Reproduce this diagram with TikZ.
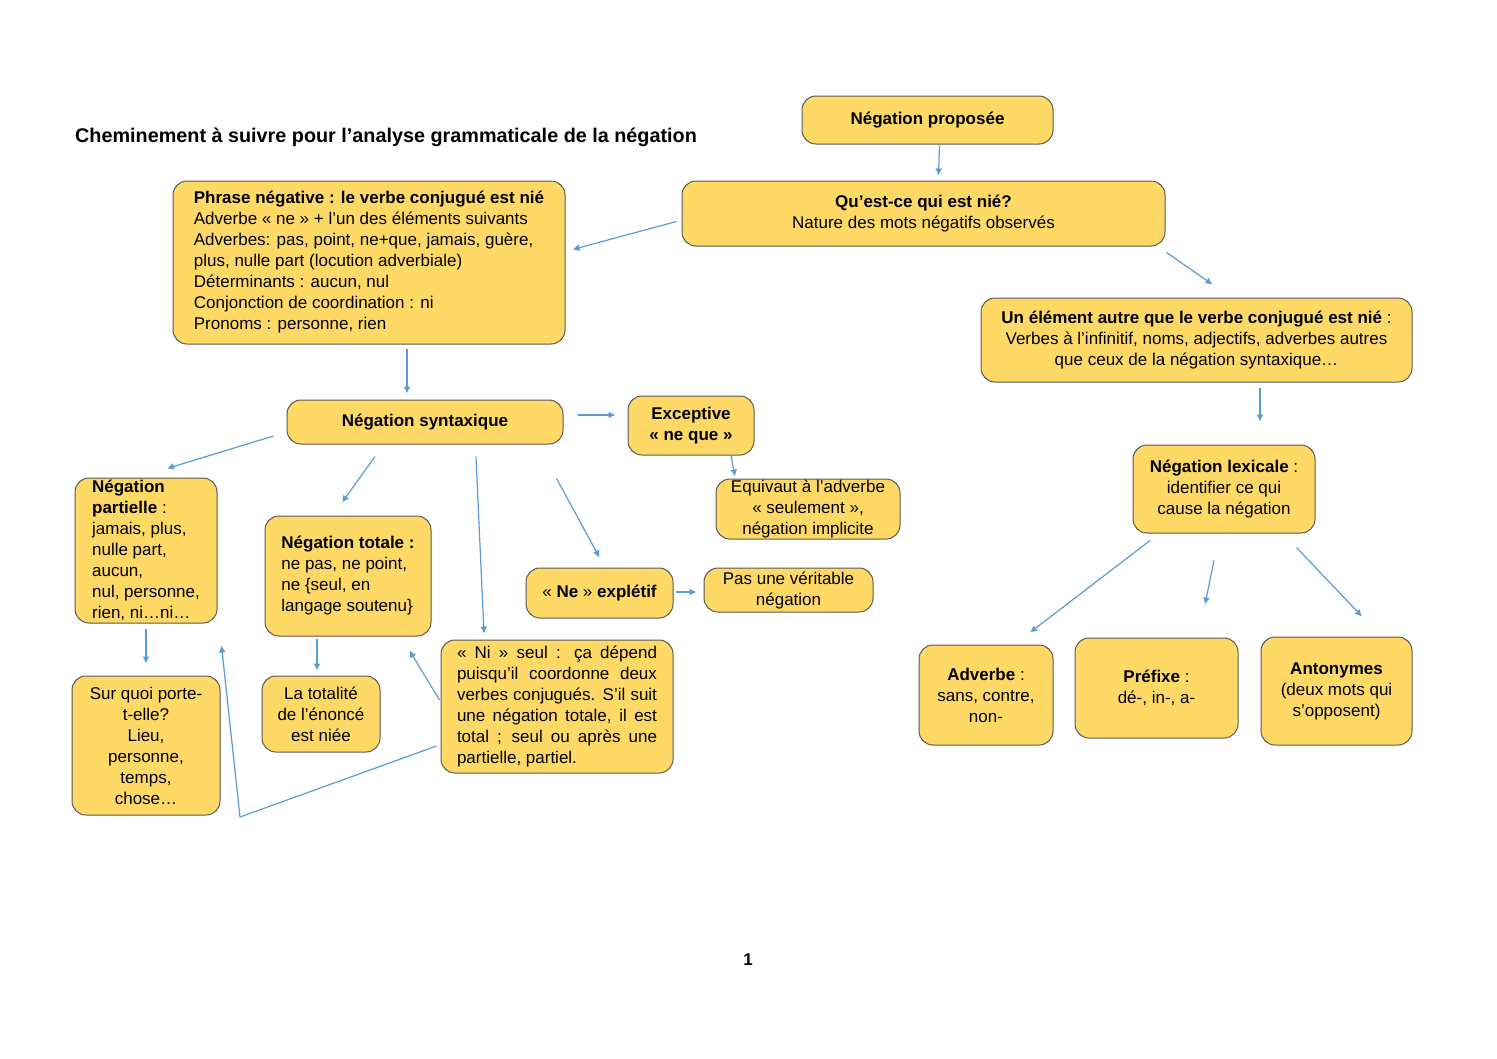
\documentclass[tikz,border=0pt]{standalone}
\usepackage{fontspec}
\setmainfont{Liberation Sans}
\usetikzlibrary{positioning,arrows.meta}
\definecolor{jaune}{HTML}{FFD966}
\definecolor{bleu}{HTML}{5B9BD5}
\definecolor{bord}{HTML}{595959}

\begin{document}
\begin{tikzpicture}[
        x=1pt, y=-1pt,
        every node/.style={font=\fontsize{17}{21}\selectfont},
        concept/.style={draw=bord, line width=1pt, rounded corners=14pt, fill=jaune, align=center, inner sep=0pt},
        flow/.style={draw=bleu, line width=1.2pt, -{Latex[length=7pt,width=7pt]}}
    ]
    \useasboundingbox (0,0) rectangle (1497,1058);
    \node[anchor=west, inner sep=0pt, font=\fontsize{19.8}{23}\selectfont\bfseries] (titre) at (75,137) {Cheminement à suivre pour l’analyse grammaticale de la négation};
    \node (page) at (748,960) {\textbf{1}};
    \node[concept, minimum width=251, minimum height=48] (proposee) at (927.5,120) {\textbf{Négation proposée}};
    \node[concept, minimum width=483, minimum height=65] (question) at (923.5,213.5) {\textbf{Qu’est-ce qui est nié?}\\Nature des mots négatifs observés};
    \node[concept, align=left, minimum width=392, minimum height=163] (phrase) at (369,262.5) {
        \textbf{Phrase négative : le verbe conjugué est nié}\\
        Adverbe « ne » + l’un des éléments suivants\\
        Adverbes: pas, point, ne+que, jamais, guère,\\
        plus, nulle part (locution adverbiale)\\
        Déterminants : aucun, nul\\
        Conjonction de coordination : ni\\
        Pronoms : personne, rien
    };
    \node[concept, minimum width=431, minimum height=84] (autre) at (1196.5,340) {
        \textbf{Un élément autre que le verbe conjugué est nié} :\\
        Verbes à l’infinitif, noms, adjectifs, adverbes autres\\
        que ceux de la négation syntaxique…
    };
    \node[concept, minimum width=276, minimum height=44] (syntaxique) at (425,422) {\textbf{Négation syntaxique}};
    \node[concept, minimum width=126, minimum height=59] (exceptive) at (691,425.5) {\textbf{Exceptive}\\\textbf{« ne que »}};
    \node[concept, minimum width=184, minimum height=60] (equivaut) at (808,509) {Equivaut à l’adverbe\\« seulement »,\\négation implicite};
    \node[concept, minimum width=147, minimum height=50] (expletif) at (599.5,593) {« \textbf{Ne} » \textbf{explétif}};
    \node[concept, minimum width=169, minimum height=44] (veritable) at (788.5,590) {Pas une véritable\\négation};
    \node[concept, align=left, minimum width=142, minimum height=145] (partielle) at (146,550.5) {
        \textbf{Négation}\\
        \textbf{partielle} :\\
        jamais, plus,\\
        nulle part,\\
        aucun,\\
        nul, personne,\\
        rien, ni…ni…
    };
    \node[concept, align=left, minimum width=166, minimum height=120] (totale) at (348,576) {
        \textbf{Négation totale :}\\
        ne pas, ne point,\\
        ne \{seul, en\\
        langage soutenu\}
    };
    \node[concept, minimum width=148, minimum height=139] (surquoi) at (146,745.5) {Sur quoi porte-\\t-elle?\\Lieu,\\personne,\\temps,\\chose…};
    \node[concept, minimum width=118, minimum height=76] (totalite) at (321,714) {La totalité\\de l’énoncé\\est niée};
    \node[concept, align=left, minimum width=232, minimum height=133] (ni) at (557,706.5) {
        \makebox[200pt][s]{« Ni » seul : ça dépend}\\
        \makebox[200pt][s]{puisqu’il coordonne deux}\\
        \makebox[200pt][s]{verbes conjugués. S’il suit}\\
        \makebox[200pt][s]{une négation totale, il est}\\
        \makebox[200pt][s]{total ; seul ou après une}\\
        partielle, partiel.
    };
    \node[concept, minimum width=182, minimum height=88] (lexicale) at (1224,489) {\textbf{Négation lexicale} :\\identifier ce qui\\cause la négation};
    \node[concept, minimum width=134, minimum height=100] (adverbe) at (986,695) {\textbf{Adverbe} :\\sans, contre,\\non-};
    \node[concept, minimum width=163, minimum height=100] (prefixe) at (1156.5,688) {\textbf{Préfixe} :\\dé-, in-, a-};
    \node[concept, minimum width=151, minimum height=108] (antonymes) at (1336.5,691) {\textbf{Antonymes}\\(deux mots qui\\s’opposent)};
    \coordinate (coude) at (240,817);
    \draw[flow] ([xshift=12pt,yshift=-1pt]proposee.south) -- ([xshift=15pt,yshift=5pt]question.north);
    \draw[flow] ([xshift=-5pt,yshift=-8pt]question.west) -- ([xshift=7pt,yshift=13pt]phrase.east);
    \draw[flow] ([xshift=1pt,yshift=-6pt]question.south east) -- ([xshift=16pt,yshift=13pt]autre.north);
    \draw[flow] ([xshift=38pt,yshift=-4pt]phrase.south) -- ([xshift=-18pt,yshift=6pt]syntaxique.north);
    \draw[flow] ([xshift=14pt,yshift=7pt]syntaxique.east) -- ([xshift=-12pt,yshift=10.5pt]exceptive.west);
    \draw[flow] ([xshift=-13pt,yshift=-14pt]syntaxique.west) -- ([xshift=21pt,yshift=9pt]partielle.north);
    \draw[flow] ([xshift=-50pt,yshift=-12pt]syntaxique.south) -- ([xshift=-6pt,yshift=13pt]totale.north);
    \draw[flow] ([xshift=51pt,yshift=-12pt]syntaxique.south) -- ([xshift=-73pt,yshift=6pt]ni.north);
    \draw[flow] ([xshift=-7pt,yshift=-34pt]syntaxique.south east) -- ([yshift=10pt]expletif.north);
    \draw[flow] ([xshift=40pt]exceptive.south) -- ([xshift=-73pt,yshift=2pt]equivaut.north);
    \draw[flow] ([xshift=2pt,yshift=1pt]expletif.east) -- ([xshift=-7pt,yshift=-2pt]veritable.west);
    \draw[flow] ([yshift=-5pt]partielle.south) -- ([yshift=12pt]surquoi.north);
    \draw[flow] ([xshift=-31pt,yshift=-2pt]totale.south) -- ([xshift=-4pt,yshift=5pt]totalite.north);
    \draw[flow] ([xshift=63.5pt,yshift=-5pt]autre.south) -- ([xshift=36pt,yshift=23pt]lexicale.north);
    \draw[flow] ([xshift=-74pt,yshift=-7pt]lexicale.south) -- ([xshift=44pt,yshift=12pt]adverbe.north);
    \draw[flow] ([xshift=-10pt,yshift=-27pt]lexicale.south) -- ([xshift=48.5pt,yshift=33pt]prefixe.north);
    \draw[flow] ([xshift=-19pt,yshift=-14pt]lexicale.south east) -- ([xshift=25.5pt,yshift=20pt]antonymes.north);
    \draw[flow] ([xshift=-4pt,yshift=-39.5pt]ni.west) -- (coude) -- ([xshift=4pt,yshift=-22pt]partielle.south east);
    \draw[flow] ([xshift=-1pt,yshift=6.5pt]ni.west) -- ([xshift=-22pt,yshift=-14pt]totale.south east);
\end{tikzpicture}
\end{document}
